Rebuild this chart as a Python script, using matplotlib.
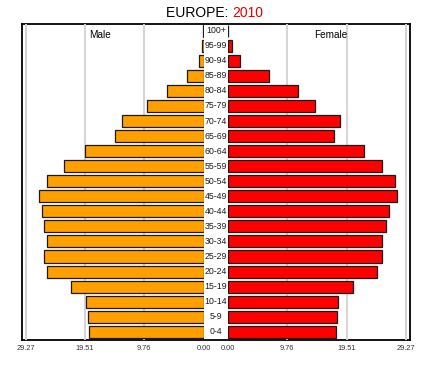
import matplotlib.pyplot as plt
import numpy as np

ages = ['0-4', '5-9', '10-14', '15-19', '20-24', '25-29', '30-34', '35-39',
        '40-44', '45-49', '50-54', '55-59', '60-64', '65-69', '70-74',
        '75-79', '80-84', '85-89', '90-94', '95-99', '100+']
male = [18.9, 19.0, 19.3, 21.8, 25.7, 26.2, 25.8, 26.2, 26.5, 27.1, 25.8,
        22.9, 19.5, 14.5, 13.4, 9.28, 6.09, 2.7, 0.72, 0.23, 0.05]
female = [17.7, 17.9, 18.1, 20.5, 24.5, 25.3, 25.3, 25.9, 26.5, 27.7, 27.4,
          25.3, 22.3, 17.5, 18.4, 14.4, 11.6, 6.7, 2.06, 0.65, 0.05]
ticks = [0.0, 9.76, 19.51, 29.27]
tick_labels = ['0.00', '9.76', '19.51', '29.27']

plt.rcParams['font.family'] = ['Liberation Sans', 'DejaVu Sans']

fig = plt.figure(figsize=(4.38, 3.68), dpi=100)
W, H = 438, 368

def box(x0, y0, x1, y1):
    return [x0 / W, 1 - y1 / H, (x1 - x0) / W, (y1 - y0) / H]

# outer frame around both halves
frame = fig.add_axes(box(22, 24, 409.7, 340), zorder=0)
frame.set_xticks([])
frame.set_yticks([])
frame.patch.set_alpha(0)
for s in frame.spines.values():
    s.set_linewidth(1.3)

ax_m = fig.add_axes(box(22, 24, 203.7, 340), zorder=1)
ax_f = fig.add_axes(box(227.7, 24, 409.7, 340), zorder=1)
y = np.arange(len(ages))
xmax = 29.85

for ax, vals, color in [(ax_m, male, '#FFA000'), (ax_f, female, '#FF0000')]:
    ax.patch.set_alpha(0)
    for g in ticks[1:]:
        ax.axvline(g, color='#d4d4d4', lw=1.4, zorder=0)
    ax.barh(y, vals, height=0.8, color=color, edgecolor='#1a1a1a', lw=0.9, zorder=2)
    ax.set_ylim(-0.55, 20.45)
    ax.set_yticks([])
    ax.set_xticks(ticks)
    ax.set_xticklabels(tick_labels)
    ax.tick_params(axis='x', length=0, pad=3.5, labelsize=5.3, labelcolor='#333333')
    for s in ax.spines.values():
        s.set_visible(False)

ax_m.set_xlim(xmax, 0)
ax_f.set_xlim(0, xmax)

for i, a in enumerate(ages):
    fig.text(216 / W, 1 - (331.7 - i * 15.05) / H, a, ha='center', va='center',
             fontsize=6.3, color='#1a1a1a')

fig.text(100 / W, 1 - 35 / H, 'Male', ha='center', va='center', fontsize=7.2)
fig.text(331 / W, 1 - 35 / H, 'Female', ha='center', va='center', fontsize=7.2)

fig.text(232.5 / W, 1 - 13 / H, 'EUROPE: ', ha='right', va='center', fontsize=10)
fig.text(232.5 / W, 1 - 13 / H, '2010', ha='left', va='center', fontsize=10,
         color='#E00000')

fig.savefig('out.png', dpi=100)
